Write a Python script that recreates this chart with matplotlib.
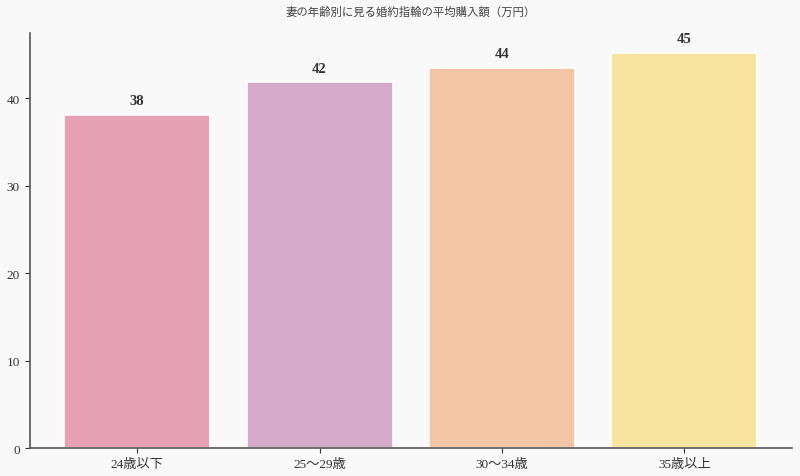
import matplotlib
matplotlib.use('Agg')
import matplotlib.pyplot as plt

# data
categories = ['24歳以下', '25〜29歳', '30〜34歳', '35歳以上']
values = [38.1, 41.8, 43.5, 45.2]
colors = ['#e8a1b4', '#d5a9c8', '#f4c5a5', '#f7e59f']

plt.rcParams['font.family'] = ['Liberation Serif', 'Noto Sans CJK JP', 'DejaVu Sans']

bg = '#f9f9f9'
fig, ax = plt.subplots(figsize=(8, 4.77), dpi=100)
fig.patch.set_facecolor(bg)
ax.set_facecolor(bg)
fig.subplots_adjust(left=0.037, right=0.99, bottom=0.058, top=0.929)

x = range(len(categories))
bars = ax.bar(x, values, width=0.8, color=colors, edgecolor='white', linewidth=1.2)

for b, v in zip(bars, values):
    ax.annotate(f'{v:.0f}', (b.get_x() + b.get_width() / 2, v),
                xytext=(0, 5.5), textcoords='offset points',
                ha='center', va='bottom', fontsize=10.5, fontweight='bold', color='#333333')

ax.set_xticks(list(x))
ax.set_xticklabels(categories, fontsize=9.5, color='#333333')
ax.set_yticks([0, 10, 20, 30, 40])
ax.tick_params(axis='y', labelsize=9.5, colors='#333333')
ax.tick_params(axis='x', colors='#333333')

ax.spines['top'].set_visible(False)
ax.spines['right'].set_visible(False)
for s in ('left', 'bottom'):
    ax.spines[s].set_color('#555555')
    ax.spines[s].set_linewidth(1.2)

ax.set_title('妻の年齢別に見る婚約指輪の平均購入額（万円）', fontsize=8.2, color='#444444', pad=13)

fig.savefig('out.png', dpi=100, facecolor=bg)
